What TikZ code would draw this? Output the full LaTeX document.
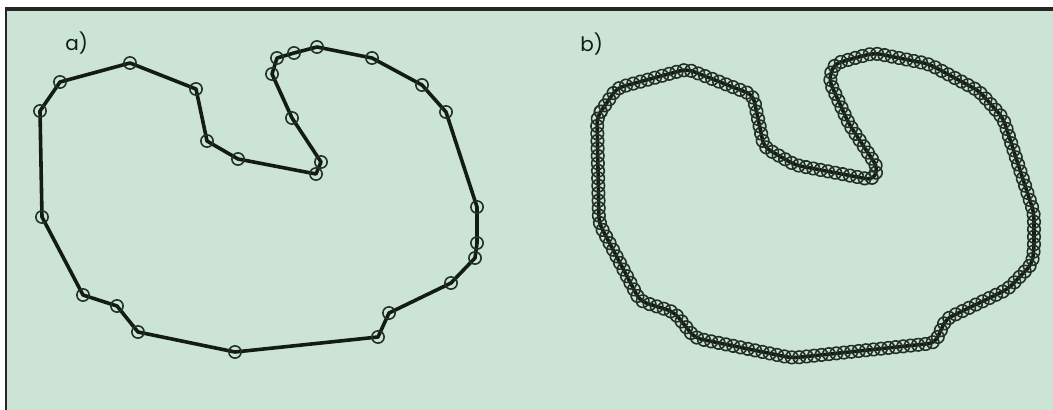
\documentclass[tikz,border=0pt]{standalone}
\usepackage{fontspec}
\setmainfont{Poppins}
\usetikzlibrary{decorations.markings}

\definecolor{panelgreen}{RGB}{203,228,213}
\definecolor{inkdark}{RGB}{18,28,20}

\tikzset{
  outline/.style={draw=inkdark, line width=2.7pt, line join=round},
  ring/.style={draw=inkdark!90!panelgreen, line width=1.2pt},
  panellabel/.style={font=\fontsize{15}{15}\selectfont, text=inkdark, inner sep=0pt, anchor=base west},
  ringchain/.style={postaction={decorate, decoration={markings,
      mark=between positions 0 and 1 step 5.6pt with {\draw[ring] (0,0) circle (4.7pt);}}}}
}

\def\shapepts{1/40/111, 2/60/82, 3/130/63, 4/196/89, 5/207/141, 6/238/159,
  7/316/174, 8/321/162, 9/292/118, 10/272/74, 11/277/58, 12/294/53, 13/317/47,
  14/372/58, 15/422/85, 16/446/112, 17/477/207, 18/477/243, 19/475/258,
  20/451/283, 21/389/313, 22/378/337, 23/235/352, 24/138/332, 25/117/306,
  26/83/295, 27/42/217}

\begin{document}
\begin{tikzpicture}[x=0.75pt,y=-0.75pt]
\useasboundingbox (0,0) rectangle (1053,410);
\fill[white] (0,0) rectangle (1053,410);
\fill[panelgreen] (6,10) rectangle (1053,410);
\fill[black!85] (5,7) rectangle (1053,11);
\fill[black!85] (5,7) rectangle (7,410);

% a) polygon with its vertices
\foreach \n/\x/\y in \shapepts {
    \coordinate (a\n) at (\x,\y);
}
\draw[outline] (a1) \foreach \n in {2,...,27} { -- (a\n) } -- cycle;
\foreach \n in {1,...,27} {
    \draw[ring] (a\n) circle (4.6pt);
}
\node[panellabel] (labela) at (65,51) {a)};

% b) same outline, densely sampled
\begin{scope}[shift={(557,6)}]
\foreach \n/\x/\y in \shapepts {
    \coordinate (b\n) at (\x,\y);
}
\draw[outline, rounded corners=5pt, ringchain] (b1) \foreach \n in {2,...,27} { -- (b\n) } -- cycle;
\end{scope}
\node[panellabel] (labelb) at (580,52) {b)};

\end{tikzpicture}
\end{document}
